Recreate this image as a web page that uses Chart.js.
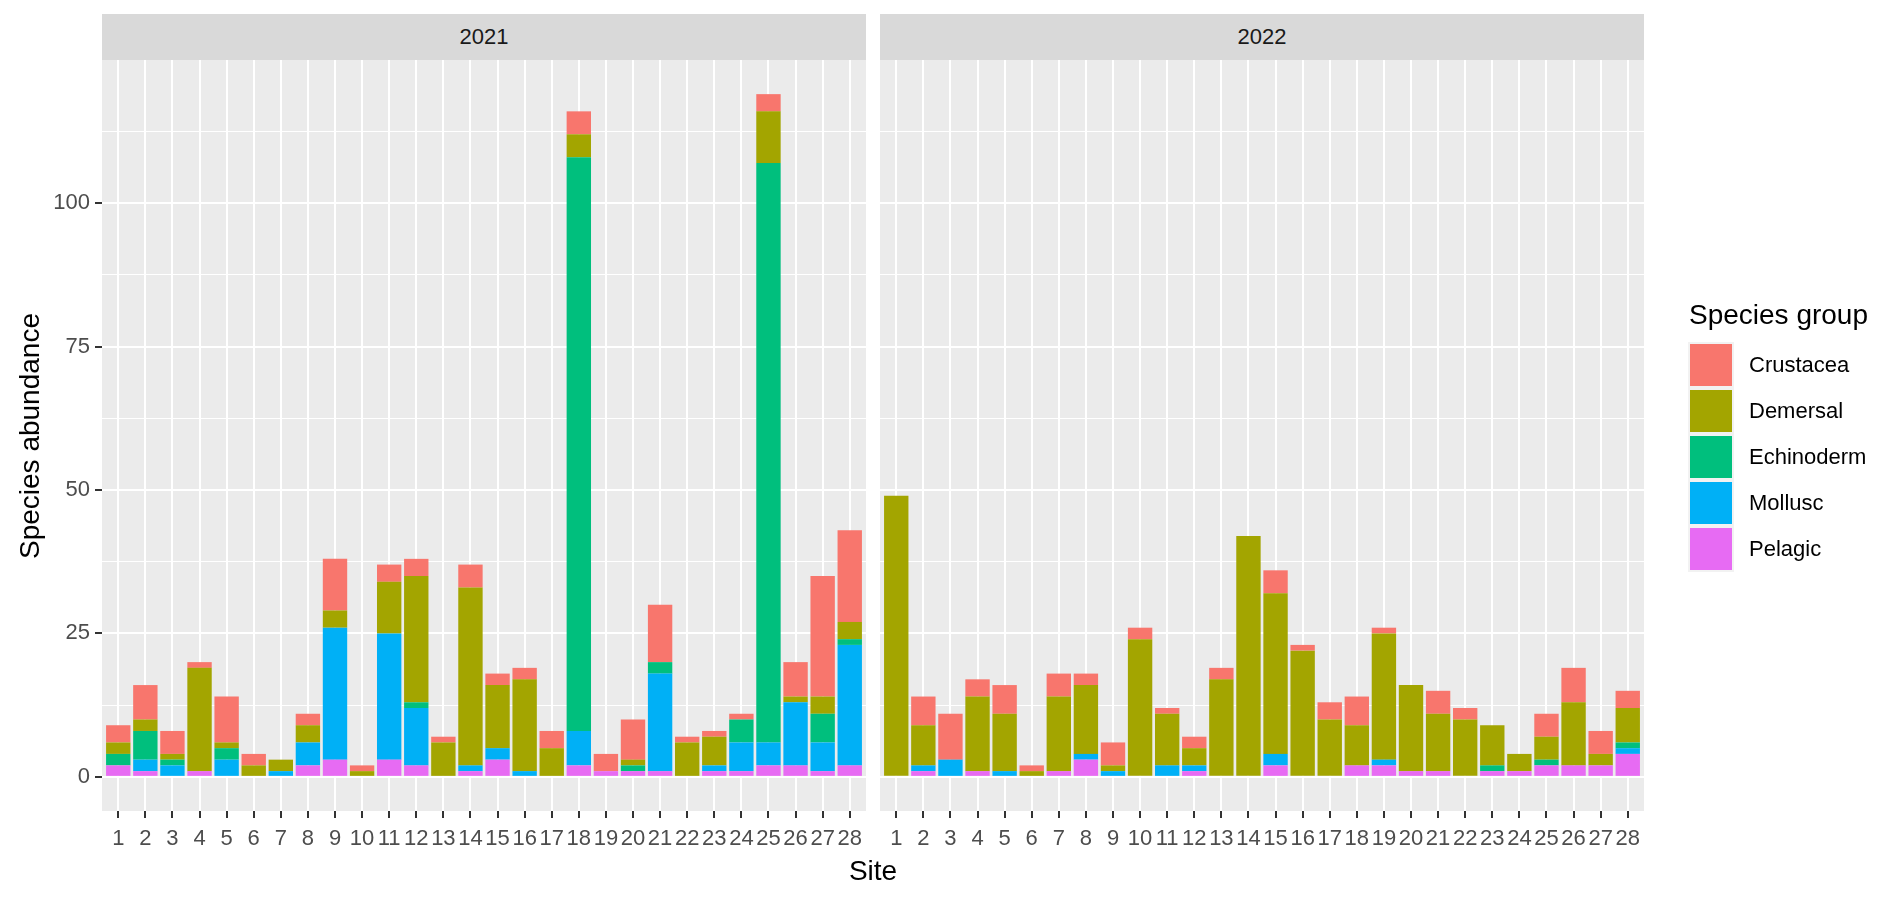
<!DOCTYPE html>
<html>
<head>
<meta charset="utf-8">
<script src="https://cdn.jsdelivr.net/npm/chart.js@4.4.1/dist/chart.umd.min.js"></script>
<style>
  html, body { margin: 0; padding: 0; background: #fff; }
  body { width: 1904px; height: 898px; position: relative; overflow: hidden; font-family: "Liberation Sans", Arial, sans-serif; }
  canvas { position: absolute; top: 0; }
  #c2021 { left: 0; }
  #c2022 { left: 866px; }
  .strip { position: absolute; top: 14px; height: 46px; line-height: 46px; width: 764px; background: #d9d9d9; color: #1a1a1a; font-size: 22px; text-align: center; }
  .title { position: absolute; color: #000; font-size: 28px; white-space: nowrap; }
  .key { position: absolute; left: 1688px; width: 46px; height: 46px; background: #f2f2f2; }
  .key span { position: absolute; left: 2px; top: 2px; width: 42px; height: 42px; }
  .klab { position: absolute; left: 1749px; height: 46px; line-height: 46px; font-size: 22px; color: #000; }
</style>
</head>
<body>
<canvas id="c2021" width="878" height="898"></canvas>
<canvas id="c2022" width="1038" height="898"></canvas>
<div class="strip" style="left:102px">2021</div>
<div class="strip" style="left:880px">2022</div>
<div class="title" style="left:873px; top:871px; transform:translate(-50%,-50%)">Site</div>
<div class="title" style="left:30px; top:436px; transform:translate(-50%,-50%) rotate(-90deg)">Species abundance</div>
<div class="title" style="left:1689px; top:301px; line-height:28px">Species group</div>
<div id="legend"></div>
<script>
const sites = [1,2,3,4,5,6,7,8,9,10,11,12,13,14,15,16,17,18,19,20,21,22,23,24,25,26,27,28];
const yLabels = [0, 25, 50, 75, 100];
const yMinor = [12.5, 37.5, 62.5, 87.5, 112.5];

const groups = ["Crustacea", "Demersal", "Echinoderm", "Mollusc", "Pelagic"];
const groupColors = ["#F8766D", "#A3A500", "#00BF7D", "#00B0F6", "#E76BF3"];

// 2021, sites 1..28
const crustacea2021  = [3,6,4,1,8,2,0,2,9,1,3,3,1,4,2,2,3,4,3,7,10,1,1,1,3,6,21,16];
const demersal2021   = [2,2,1,18,1,2,2,3,3,1,9,22,6,31,11,16,5,4,0,1,0,6,5,0,9,1,3,3];
const echinoderm2021 = [2,5,1,0,2,0,0,0,0,0,0,1,0,0,0,0,0,100,0,1,2,0,0,4,101,0,5,1];
const mollusc2021    = [0,2,2,0,3,0,1,4,23,0,22,10,0,1,2,1,0,6,0,0,17,0,1,5,4,11,5,21];
const pelagic2021    = [2,1,0,1,0,0,0,2,3,0,3,2,0,1,3,0,0,2,1,1,1,0,1,1,2,2,1,2];

// 2022, sites 1..28
const crustacea2022  = [0,5,8,3,5,1,4,2,4,2,1,2,2,0,4,1,3,5,1,0,4,2,0,0,4,6,4,3];
const demersal2022   = [49,7,0,13,10,1,13,12,1,24,9,3,17,42,28,22,10,7,22,15,10,10,7,3,4,11,2,6];
const echinoderm2022 = [0,0,0,0,0,0,0,0,0,0,0,0,0,0,0,0,0,0,0,0,0,0,1,0,1,0,0,1];
const mollusc2022    = [0,1,3,0,1,0,0,1,1,0,2,1,0,0,2,0,0,0,1,0,0,0,0,0,0,0,0,1];
const pelagic2022    = [0,1,0,1,0,0,1,3,0,0,0,1,0,0,2,0,0,2,2,1,1,0,1,1,2,2,2,4];

const fontTick = { family: "'Liberation Sans', Arial, sans-serif", size: 22 };

const panelBg = {
  id: 'panelBg',
  beforeDraw(chart) {
    const a = chart.chartArea;
    const ctx = chart.ctx;
    ctx.save();
    ctx.fillStyle = '#ebebeb';
    ctx.fillRect(a.left, a.top, a.right - a.left, a.bottom - a.top);
    ctx.restore();
  }
};

function toPoints(vals) {
  return vals.map((v, i) => ({ x: sites[i], y: v }));
}

function makePanel(id, series, showY) {
  // series given top-to-bottom like the legend; chart.js stacks first dataset at the bottom
  const datasets = groups.map((g, i) => ({
    label: g,
    data: toPoints(series[i]),
    backgroundColor: groupColors[i],
    borderWidth: 0,
    categoryPercentage: 1,
    barPercentage: 0.9
  })).reverse();

  return new Chart(document.getElementById(id), {
    type: 'bar',
    data: { datasets },
    options: {
      responsive: false,
      animation: false,
      layout: { padding: showY ? { left: 0, right: 12, top: 60, bottom: 0 } : { left: 14, right: 260, top: 60, bottom: 0 } },
      plugins: { legend: { display: false }, tooltip: { enabled: false } },
      scales: {
        x: {
          type: 'linear',
          stacked: true,
          offset: false,
          min: 0.4,
          max: 28.6,
          afterBuildTicks: (s) => { s.ticks = sites.map(v => ({ value: v })); },
          afterFit: (s) => { s.height = 87; },
          border: { display: false },
          grid: { offset: false, color: '#ffffff', lineWidth: 2, tickColor: '#333333', tickLength: 7, tickWidth: 2 },
          ticks: {
            font: fontTick, color: '#4d4d4d', padding: 8,
            autoSkip: false, minRotation: 0, maxRotation: 0,
            callback: (v) => String(v)
          }
        },
        y: {
          stacked: true,
          min: -5.95,
          max: 124.95,
          afterBuildTicks: (s) => {
            s.ticks = yLabels.concat(yMinor).sort((a, b) => a - b).map(v => ({ value: v }));
          },
          afterFit: (s) => { s.width = showY ? 102 : 0; },
          border: { display: false },
          grid: {
            color: '#ffffff',
            lineWidth: (c) => (c.tick && yLabels.includes(c.tick.value)) ? 2 : 1,
            drawTicks: showY,
            tickLength: 7,
            tickWidth: 2,
            tickColor: (c) => (c.tick && yLabels.includes(c.tick.value)) ? '#333333' : 'rgba(0,0,0,0)'
          },
          ticks: {
            display: showY,
            font: fontTick, color: '#4d4d4d', padding: 5,
            callback: (v) => yLabels.includes(v) ? String(v) : ''
          }
        }
      }
    },
    plugins: [panelBg]
  });
}

makePanel('c2021', [crustacea2021, demersal2021, echinoderm2021, mollusc2021, pelagic2021], true);
makePanel('c2022', [crustacea2022, demersal2022, echinoderm2022, mollusc2022, pelagic2022], false);

// legend
const legend = document.getElementById('legend');
groups.forEach((g, i) => {
  const top = 342 + i * 46;
  const key = document.createElement('div');
  key.className = 'key';
  key.style.top = top + 'px';
  const sw = document.createElement('span');
  sw.style.background = groupColors[i];
  key.appendChild(sw);
  legend.appendChild(key);
  const lab = document.createElement('div');
  lab.className = 'klab';
  lab.style.top = top + 'px';
  lab.textContent = g;
  legend.appendChild(lab);
});
</script>
</body>
</html>
